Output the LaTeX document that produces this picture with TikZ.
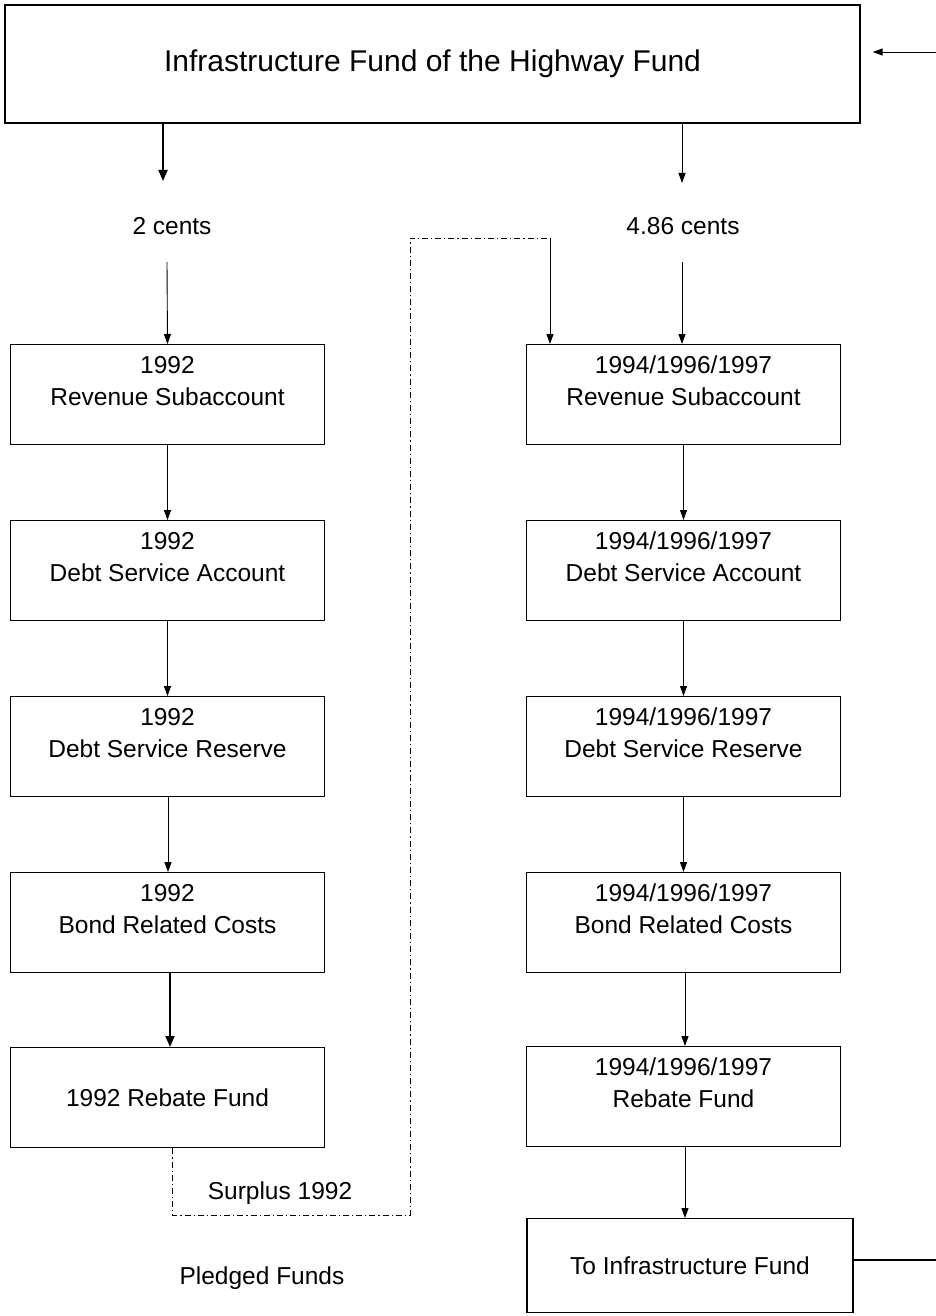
\documentclass[tikz,border=0pt]{standalone}
\usepackage{fontspec}
\setmainfont{Liberation Sans}
\usetikzlibrary{arrows.meta}
\tikzset{
	box/.style={draw, line width=1.3pt, anchor=north, minimum width=314pt, minimum height=100pt, inner sep=0pt},
	boxtext/.style={anchor=north, yshift=-12pt, align=center, font=\fontsize{24.5}{32}\selectfont, inner sep=0pt},
	word/.style={font=\fontsize{24.5}{28}\selectfont, inner sep=0pt},
	flow/.style={line width=0.9pt, -{Triangle[length=10pt,width=7pt]}},
	boldflow/.style={line width=1.8pt, -{Triangle[length=11pt,width=9pt]}},
	surplus/.style={line width=0.8pt, dash pattern=on 6pt off 3pt on 1.2pt off 3pt}
}
\begin{document}
\begin{tikzpicture}[x=1pt,y=-1pt]
		\useasboundingbox (0,0) rectangle (936,1316);
		\node[draw, line width=1.3pt, minimum width=855pt, minimum height=118pt, font=\fontsize{30}{32}\selectfont] (top) at (432.5,64) {Infrastructure Fund of the Highway Fund};
		\node[word] (cents2) at (172,226) {2 cents};
		\node[word] (cents486) at (683,226) {4.86 cents};
		% left column
		\node[box, label={[boxtext]north:{1992\\Revenue Subaccount}}] (l1) at (167.5,344) {};
		\node[box, label={[boxtext]north:{1992\\Debt Service Account}}] (l2) at (167.5,520) {};
		\node[box, label={[boxtext]north:{1992\\Debt Service Reserve}}] (l3) at (167.5,696) {};
		\node[box, label={[boxtext]north:{1992\\Bond Related Costs}}] (l4) at (167.5,872) {};
		\node[box, font=\fontsize{24.5}{28}\selectfont] (l5) at (167.5,1047) {1992 Rebate Fund};
		% right column
		\node[box, label={[boxtext]north:{1994/1996/1997\\Revenue Subaccount}}] (r1) at (683.5,344) {};
		\node[box, label={[boxtext]north:{1994/1996/1997\\Debt Service Account}}] (r2) at (683.5,520) {};
		\node[box, label={[boxtext]north:{1994/1996/1997\\Debt Service Reserve}}] (r3) at (683.5,696) {};
		\node[box, label={[boxtext]north:{1994/1996/1997\\Bond Related Costs}}] (r4) at (683.5,872) {};
		\node[box, label={[boxtext]north:{1994/1996/1997\\Rebate Fund}}] (r5) at (683.5,1046) {};
		\node[box, minimum width=326pt, minimum height=94pt, font=\fontsize{24.5}{28}\selectfont] (r6) at (690,1218) {To Infrastructure Fund};
		\node[word] (surplus) at (280,1193) {Surplus 1992};
		\node[word] (pledged) at (262,1278) {Pledged Funds};
		\coordinate (inflow) at (936,52);
		\coordinate (outflow) at (936,1260);
		\coordinate (bend) at (410,1215);
		\coordinate (join) at (550,238);
		% arrows
		\draw[boldflow] (top.south -| 163,0) -- (163,181);
		\draw[flow] (top.south -| 682,0) -- (682,183);
		\draw[flow] (167,262) -- (l1.north);
		\draw[flow] (682,262) -- (r1.north -| 682,0);
		\draw[flow] (l1) -- (l2);
		\draw[flow] (l2) -- (l3);
		\draw[flow] (l3.south -| 168,0) -- (l4.north -| 168,0);
		\draw[boldflow] (l4.south -| 170,0) -- (l5.north -| 170,0);
		\draw[flow] (r1) -- (r2);
		\draw[flow] (r2) -- (r3);
		\draw[flow] (r3) -- (r4);
		\draw[flow] (r4.south -| 685,0) -- (r5.north -| 685,0);
		\draw[flow] (r5.south -| 685,0) -- (r6.north -| 685,0);
		\draw[flow] (inflow) -- ([xshift=12pt]top.east |- inflow);
		\draw[line width=1.3pt] (r6.east |- outflow) -- (outflow);
		\draw[surplus] (l5.south -| 172,0) |- (bend) |- (join);
		\draw[flow] (join) -- (r1.north -| join);
	\end{tikzpicture}
\end{document}
